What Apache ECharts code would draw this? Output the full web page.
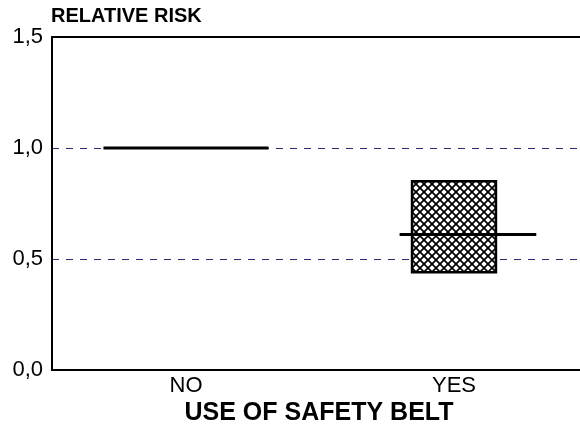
<!DOCTYPE html>
<html>
<head>
<meta charset="utf-8">
<script src="https://cdn.jsdelivr.net/npm/echarts@6/dist/echarts.min.js"></script>
<style>
  html, body { margin: 0; padding: 0; background: #fff; overflow: hidden; }
  #main { width: 588px; height: 427px; }
</style>
</head>
<body>
<div id="main"></div>
<script>
// data
var categories = ['NO', 'YES'];
var estimate = [1.0, 0.61];
var lower = [null, 0.44];
var upper = [null, 0.85];
var yTicks = [0, 0.5, 1.0, 1.5];

// layout of the marks, as a share of the category band
var lineWidthFrac = [0.616, 0.51];
var lineShiftFrac = [0, 0.052];
var boxWidthFrac = 0.313;

// cross hatch tile
function hatch() {
  var c = document.createElement('canvas');
  c.width = 8; c.height = 8;
  var g = c.getContext('2d');
  g.fillStyle = '#fff';
  g.fillRect(0, 0, 8, 8);
  g.strokeStyle = '#000';
  g.lineWidth = 1.7;
  g.beginPath();
  g.moveTo(-1, -1); g.lineTo(9, 9);
  g.moveTo(9, -1); g.lineTo(-1, 9);
  g.stroke();
  return c;
}
var hatchFill = { image: hatch(), repeat: 'repeat' };

var font = 'Liberation Sans, Arial, sans-serif';
var chart = echarts.init(document.getElementById('main'));

var option = {
  backgroundColor: '#ffffff',
  animation: false,
  title: [{
    text: 'RELATIVE RISK',
    left: 51,
    top: 6,
    padding: 0,
    textStyle: { fontSize: 20, fontWeight: 'bold', color: '#000', fontFamily: font }
  }, {
    text: 'USE OF SAFETY BELT',
    left: 319,
    textAlign: 'center',
    top: 401,
    padding: 0,
    textStyle: { fontSize: 25, fontWeight: 'bold', color: '#000', fontFamily: font }
  }],
  grid: {
    left: 52,
    top: 37,
    bottom: 57,
    right: 0
  },
  xAxis: [{
    type: 'category',
    data: categories,
    axisTick: { show: false },
    axisLine: { lineStyle: { color: '#000', width: 2 } },
    axisLabel: { fontSize: 22, color: '#000', fontFamily: font, margin: 5 }
  }, {
    // top frame line only
    type: 'category',
    data: categories,
    position: 'top',
    axisTick: { show: false },
    axisLabel: { show: false },
    axisLine: { lineStyle: { color: '#000', width: 2 } }
  }],
  yAxis: {
    type: 'value',
    min: yTicks[0],
    max: yTicks[yTicks.length - 1],
    interval: 0.5,
    axisTick: { show: false },
    axisLine: { show: true, lineStyle: { color: '#000', width: 2 } },
    axisLabel: {
      fontSize: 22, color: '#000', fontFamily: font, margin: 9,
      formatter: function (v) { return v.toFixed(1).replace('.', ','); }
    },
    splitLine: { lineStyle: { color: '#2a2a6e', width: 1, type: [7, 7] } }
  },
  series: [{
    type: 'custom',
    data: categories.map(function (c, i) { return [i, estimate[i]]; }),
    renderItem: function (params, api) {
      var i = params.dataIndex;
      var band = api.size([1, 0])[0];
      var mid = api.coord([i, estimate[i]]);
      var children = [];
      if (lower[i] != null) {
        var top = api.coord([i, upper[i]])[1];
        var bot = api.coord([i, lower[i]])[1];
        var w = band * boxWidthFrac;
        children.push({
          type: 'rect',
          shape: { x: mid[0] - w / 2, y: top, width: w, height: bot - top },
          style: { fill: hatchFill, stroke: '#000', lineWidth: 2.5 }
        });
      }
      var lw = band * lineWidthFrac[i];
      var cx = mid[0] + band * lineShiftFrac[i];
      children.push({
        type: 'line',
        shape: { x1: cx - lw / 2, y1: mid[1], x2: cx + lw / 2, y2: mid[1] },
        style: { stroke: '#000', lineWidth: 3 }
      });
      return { type: 'group', children: children };
    }
  }]
};
chart.setOption(option);
</script>
</body>
</html>
